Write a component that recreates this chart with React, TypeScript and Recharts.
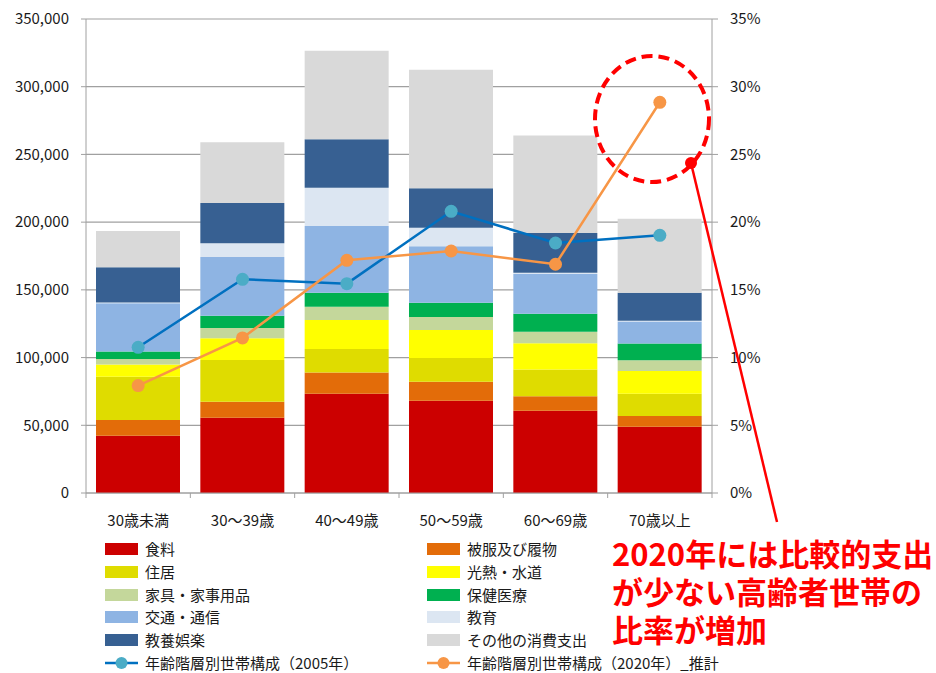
import { Bar, CartesianGrid, ComposedChart, Legend, Line, XAxis, YAxis } from "recharts"

// 世帯主の年齢階級別 消費支出（円/月）
const categories = ["30歳未満", "30〜39歳", "40〜49歳", "50〜59歳", "60〜69歳", "70歳以上"]

const food = [42300, 55600, 73300, 68200, 60800, 49000]
const clothing = [11600, 11800, 15600, 14000, 10600, 7900]
const housing = [32000, 30800, 17400, 17500, 19700, 16400]
const utilities = [8900, 16000, 21500, 20700, 19400, 16800]
const furniture = [4200, 7700, 9800, 9600, 8600, 7900]
const medical = [5400, 9000, 10300, 10500, 13300, 12300]
const transport = [35700, 43400, 49200, 41700, 29300, 16300]
const education = [500, 10100, 28300, 13700, 1000, 500]
const culture = [26100, 29800, 35900, 29100, 29300, 20700]
const other = [26800, 44800, 65300, 87600, 71900, 54700]

// 年齢階層別世帯構成（比率）
const share2005 = [0.1076, 0.1578, 0.1546, 0.208, 0.1846, 0.1903]
const share2020 = [0.0793, 0.1145, 0.1718, 0.1787, 0.1689, 0.2885]

const leftTicks = [0, 50000, 100000, 150000, 200000, 250000, 300000, 350000]
const rightTicks = [0, 0.05, 0.1, 0.15, 0.2, 0.25, 0.3, 0.35]

const barSeries = [
  { key: "food", name: "食料", color: "#CC0000", values: food },
  { key: "clothing", name: "被服及び履物", color: "#E36C09", values: clothing },
  { key: "housing", name: "住居", color: "#DFDC00", values: housing },
  { key: "utilities", name: "光熱・水道", color: "#FFFF00", values: utilities },
  { key: "furniture", name: "家具・家事用品", color: "#C4D79B", values: furniture },
  { key: "medical", name: "保健医療", color: "#00B050", values: medical },
  { key: "transport", name: "交通・通信", color: "#8EB4E3", values: transport },
  { key: "education", name: "教育", color: "#DCE6F2", values: education },
  { key: "culture", name: "教養娯楽", color: "#376092", values: culture },
  { key: "other", name: "その他の消費支出", color: "#D9D9D9", values: other },
]

const lineSeries = [
  { key: "s2005", name: "年齢階層別世帯構成（2005年）", color: "#0070C0", dot: "#4BACC6", values: share2005 },
  { key: "s2020", name: "年齢階層別世帯構成（2020年）_推計", color: "#F79646", dot: "#F79646", values: share2020 },
]

const noteLines = ["2020年には比較的支出", "が少ない高齢者世帯の", "比率が増加"]

const data = categories.map((category, i) => {
  const row: Record<string, string | number> = { category }
  barSeries.forEach((s) => (row[s.key] = s.values[i]))
  lineSeries.forEach((s) => (row[s.key] = s.values[i]))
  return row
})

const FONT = "'Noto Sans CJK JP', 'Noto Sans', sans-serif"
const GRID = "#A0A0A0"
const TEXT = "#1a1a1a"

function CategoryTick(props: any) {
  const { x, y, payload, index } = props
  const half = 626 / 6 / 2
  return (
    <g>
      <line x1={x - half} y1={y} x2={x - half} y2={y + 5} stroke={GRID} />
      {index === categories.length - 1 ? (
        <line x1={x + half} y1={y} x2={x + half} y2={y + 5} stroke={GRID} />
      ) : null}
      <text x={x} y={y + 33} textAnchor="middle" fontSize={15} fill={TEXT} fontFamily={FONT}>
        {payload.value}
      </text>
    </g>
  )
}

function LegendBox() {
  const items = [
    ...barSeries.map((s) => ({ name: s.name, color: s.color, line: false, dot: s.color })),
    ...lineSeries.map((s) => ({ name: s.name, color: s.color, line: true, dot: s.dot })),
  ]
  return (
    <div style={{ position: "relative", width: 500, height: 140, fontFamily: FONT, fontSize: 15, color: TEXT }}>
      {items.map((item, i) => {
        const col = i % 2
        const row = Math.floor(i / 2)
        return (
          <div
            key={item.name}
            style={{
              position: "absolute",
              left: col * 322,
              top: row * 22.8,
              height: 22,
              lineHeight: "22px",
              display: "flex",
              alignItems: "center",
              whiteSpace: "nowrap",
            }}
          >
            <svg width={33} height={14} style={{ marginRight: 7 }}>
              {item.line ? (
                <>
                  <line x1={0} y1={7} x2={33} y2={7} stroke={item.color} strokeWidth={2.5} />
                  <circle cx={16.5} cy={7} r={6} fill={item.dot} />
                </>
              ) : (
                <rect x={0} y={1} width={33} height={12} fill={item.color} />
              )}
            </svg>
            <span>{item.name}</span>
          </div>
        )
      })}
    </div>
  )
}

export default function App() {
  return (
    <div style={{ position: "absolute", left: 0, top: 0, width: 936, height: 673, background: "#fff" }}>
      <ComposedChart
        width={936}
        height={673}
        data={data}
        margin={{ top: 19, right: 164, bottom: 150, left: 0 }}
        style={{ fontFamily: FONT }}
      >
        <CartesianGrid vertical={false} stroke={GRID} strokeWidth={1.2} yAxisId="left" />
        <XAxis
          dataKey="category"
          tick={<CategoryTick />}
          tickLine={false}
          tickSize={0}
          tickMargin={0}
          height={30}
          axisLine={{ stroke: GRID }}
          interval={0}
        />
        <YAxis
          yAxisId="left"
          width={86}
          domain={[0, 350000]}
          ticks={leftTicks}
          tickFormatter={(v: number) => v.toLocaleString("en-US")}
          tick={{ fontSize: 15, fill: TEXT, fontFamily: FONT }}
          tickSize={5}
          tickMargin={12}
          tickLine={{ stroke: GRID }}
          axisLine={{ stroke: GRID }}
        />
        <YAxis
          yAxisId="right"
          orientation="right"
          width={60}
          domain={[0, 0.35]}
          ticks={rightTicks}
          tickFormatter={(v: number) => `${Math.round(v * 100)}%`}
          tick={{ fontSize: 15, fill: TEXT, fontFamily: FONT, textAnchor: "start" }}
          tickSize={6}
          tickMargin={12}
          tickLine={{ stroke: GRID }}
          axisLine={{ stroke: GRID }}
        />
        {barSeries.map((s) => (
          <Bar
            key={s.key}
            dataKey={s.key}
            name={s.name}
            yAxisId="left"
            stackId="spend"
            fill={s.color}
            barSize={84}
            isAnimationActive={false}
          />
        ))}
        {lineSeries.map((s) => (
          <Line
            key={s.key}
            dataKey={s.key}
            name={s.name}
            yAxisId="right"
            type="linear"
            stroke={s.color}
            strokeWidth={2.5}
            dot={{ r: 6.5, fill: s.dot, stroke: "none" }}
            activeDot={false}
            isAnimationActive={false}
          />
        ))}
        <Legend
          layout="horizontal"
          verticalAlign="middle"
          align="center"
          content={() => <LegendBox />}
          wrapperStyle={{ top: 538, left: 105, width: 500 }}
        />
      </ComposedChart>
      <svg
        width={936}
        height={673}
        style={{ position: "absolute", left: 0, top: 0, pointerEvents: "none" }}
      >
        <ellipse cx={652} cy={119} rx={57} ry={63} fill="none" stroke="#FF0000" strokeWidth={4} strokeDasharray="11 6" />
        <line x1={691} y1={163} x2={777} y2={522} stroke="#FF0000" strokeWidth={2.5} />
        <circle cx={691} cy={163} r={6} fill="#FF0000" />
      </svg>
      <div
        style={{
          position: "absolute",
          left: 612,
          top: 534,
          fontFamily: FONT,
          fontSize: 31,
          lineHeight: "38px",
          fontWeight: 700,
          color: "#FF0000",
          whiteSpace: "pre",
        }}
      >
        {noteLines.join("\n")}
      </div>
    </div>
  )
}
